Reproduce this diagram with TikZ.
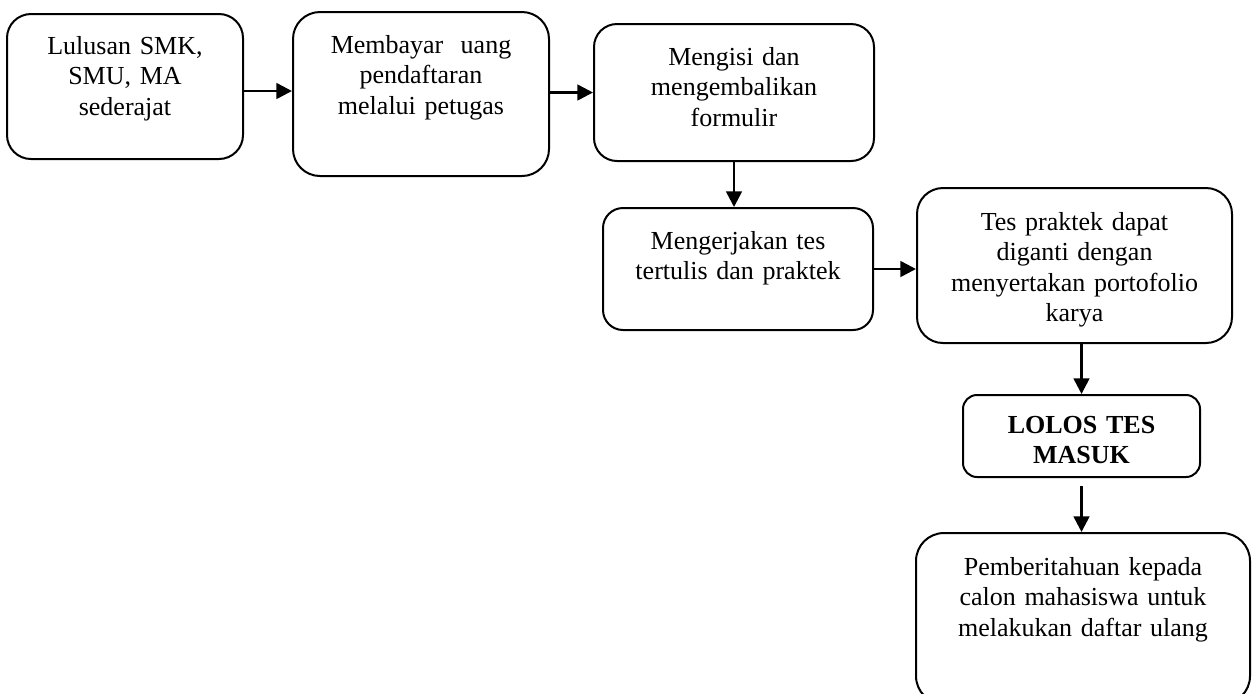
\documentclass[tikz,border=0pt]{standalone}
\usepackage{fontspec}
\setmainfont{Liberation Serif}
\usetikzlibrary{arrows.meta}

\begin{document}
\begin{tikzpicture}[x=0.5pt,y=-0.5pt,
    box/.style={draw, line width=1pt, inner sep=0pt},
    txt/.style={anchor=base, align=center, inner sep=0pt, font=\fontsize{13}{15.3}\selectfont},
    arr/.style={line width=1.3pt, -{Triangle[length=7.8pt,width=7.8pt]}}]
    \useasboundingbox (0,0) rectangle (1252,693);
    \node[box, minimum width=118pt, minimum height=72.5pt, rounded corners=12pt] (lulusan) at (125,86.5) {};
    \node[box, minimum width=128pt, minimum height=82pt, rounded corners=13.5pt] (bayar) at (421,94) {};
    \node[box, minimum width=140pt, minimum height=68.5pt, rounded corners=11.5pt] (isi) at (734,92.5) {};
    \node[box, minimum width=135pt, minimum height=61pt, rounded corners=10pt] (tes) at (738,269) {};
    \node[box, minimum width=157.5pt, minimum height=77.5pt, rounded corners=13pt] (porto) at (1074.5,265.5) {};
    \node[box, minimum width=118.5pt, minimum height=41pt, rounded corners=7pt] (lolos) at (1081.5,436) {};
    \node[box, minimum width=167pt, minimum height=85.5pt, rounded corners=14pt] (ulang) at (1083,618.5) {};
    \node[txt, text width=110pt] (tlulusan) at (125,54) {Lulusan SMK,\\ SMU, MA\\ sederajat};
    \node[txt, text width=120pt] (tbayar) at (421,53) {Membayar\ \ uang\\ pendaftaran\\ melalui petugas};
    \node[txt, text width=132pt] (tisi) at (734,65) {Mengisi dan\\ mengembalikan\\ formulir};
    \node[txt, text width=128pt] (ttes) at (738,249) {Mengerjakan tes\\ tertulis dan praktek};
    \node[txt, text width=150pt] (tporto) at (1074.5,230) {Tes praktek dapat\\ diganti dengan\\ menyertakan portofolio\\ karya};
    \node[txt, text width=110pt] (tlolos) at (1081.5,433) {\textbf{LOLOS TES}\\ \textbf{MASUK}};
    \node[txt, text width=160pt] (tulang) at (1083,575) {Pemberitahuan kepada\\ calon mahasiswa untuk\\ melakukan daftar ulang};
    \coordinate (a1) at ([yshift=-2.25pt]lulusan.east);
    \draw[arr] (a1) -- (a1 -| bayar.west);
    \draw[arr] (bayar.east |- isi.west) -- (isi.west);
    \draw[arr] (isi.south) -- (isi.south |- tes.north);
    \draw[arr] (tes.east) -- (tes.east -| porto.west);
    \draw[arr] (lolos.north |- porto.south) -- (lolos.north);
    \draw[arr, shorten <=4pt] (lolos.south) -- (lolos.south |- ulang.north);
\end{tikzpicture}
\end{document}
